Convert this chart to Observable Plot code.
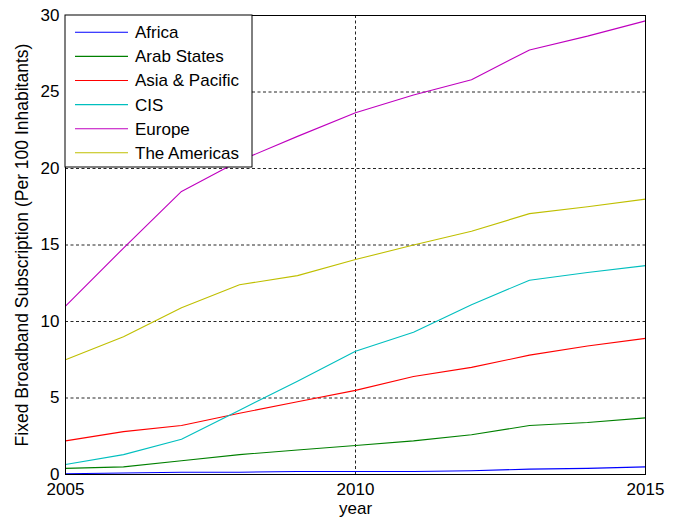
<!DOCTYPE html>
<html>
<head>
<meta charset="utf-8">
<script src="https://cdn.jsdelivr.net/npm/d3@7"></script>
<script src="https://cdn.jsdelivr.net/npm/@observablehq/plot@0.6"></script>
<style>
  html, body { margin: 0; padding: 0; background: #fff; }
  #chart svg { display: block; }
</style>
</head>
<body>
<div id="chart"></div>
<script>
const years = [2005, 2006, 2007, 2008, 2009, 2010, 2011, 2012, 2013, 2014, 2015];
const regions = ["Africa", "Arab States", "Asia & Pacific", "CIS", "Europe", "The Americas"];
const colors = ["#0000ff", "#008000", "#ff0000", "#00bfbf", "#bf00bf", "#bfbf00"];
const africa      = [0.05, 0.1, 0.15, 0.15, 0.2, 0.2, 0.2, 0.25, 0.35, 0.4, 0.5];
const arabStates  = [0.4, 0.5, 0.9, 1.3, 1.6, 1.9, 2.2, 2.6, 3.2, 3.4, 3.7];
const asiaPacific = [2.2, 2.8, 3.2, 4.0, 4.75, 5.5, 6.4, 7.0, 7.8, 8.4, 8.9];
const cis         = [0.65, 1.3, 2.3, 4.2, 6.1, 8.05, 9.3, 11.1, 12.7, 13.2, 13.65];
const europe      = [11.0, 14.8, 18.5, 20.5, 22.1, 23.65, 24.8, 25.8, 27.75, 28.65, 29.65];
const americas    = [7.5, 9.0, 10.9, 12.4, 13.0, 14.05, 15.0, 15.9, 17.05, 17.5, 18.0];
const xTicks = [2005, 2010, 2015];
const yTicks = [0, 5, 10, 15, 20, 25, 30];
const xLabel = "year";
const yLabel = "Fixed Broadband Subscription (Per 100 Inhabitants)";

const seriesValues = [africa, arabStates, asiaPacific, cis, europe, americas];
const data = [];
regions.forEach((r, i) => years.forEach((y, j) => data.push({region: r, year: y, value: seriesValues[i][j]})));

const W = 683, H = 519;
const mL = 65, mR = 38, mT = 15, mB = 45;

const plot = Plot.plot({
  width: W,
  height: H,
  marginLeft: mL,
  marginRight: mR,
  marginTop: mT,
  marginBottom: mB,
  style: {fontFamily: "'Liberation Sans', Arial, sans-serif", fontSize: "17px", background: "#fff", color: "#000"},
  x: {domain: [2005, 2015], ticks: xTicks, tickFormat: "d"},
  y: {domain: [0, 30], ticks: yTicks},
  color: {domain: regions, range: colors},
  marks: [
    Plot.gridX(xTicks, {stroke: "#000", strokeOpacity: 0.85, strokeDasharray: "3,2.5", strokeWidth: 1}),
    Plot.gridY(yTicks, {stroke: "#000", strokeOpacity: 0.85, strokeDasharray: "3,2.5", strokeWidth: 1}),
    Plot.axisX(xTicks, {tickSize: 0, tickPadding: 8, label: null, tickFormat: "d", fontSize: 17}),
    Plot.axisY(yTicks, {tickSize: 0, tickPadding: 6, label: null, fontSize: 17}),
    Plot.line(data, {x: "year", y: "value", z: "region", stroke: "region", strokeWidth: 1.1}),
    Plot.frame({stroke: "#000", strokeWidth: 1}),
    Plot.text([xLabel], {frameAnchor: "bottom", dy: 39, fontSize: 17, fill: "#000", textAnchor: "middle"}),
    Plot.text([yLabel], {frameAnchor: "left", rotate: -90, dx: -43, fontSize: 17.5, fill: "#000", textAnchor: "middle"})
  ]
});

// Legend box inside the plot (upper left)
const svg = d3.select(plot);
const lg = svg.append("g")
  .attr("font-family", "'Liberation Sans', Arial, sans-serif")
  .attr("font-size", 17)
  .attr("text-anchor", "start");
lg.append("rect").attr("x", mL).attr("y", mT).attr("width", 187).attr("height", 152)
  .attr("fill", "#fff").attr("stroke", "#000").attr("stroke-width", 1);
regions.forEach((r, i) => {
  const cy = 32.3 + i * 24.1;
  lg.append("line").attr("x1", 75).attr("x2", 128).attr("y1", cy).attr("y2", cy)
    .attr("stroke", colors[i]).attr("stroke-width", 1.1);
  lg.append("text").attr("x", 135).attr("y", cy).attr("dy", "0.35em")
    .attr("text-anchor", "start").attr("fill", "#000").text(r);
});

document.getElementById("chart").appendChild(plot);
</script>
</body>
</html>
